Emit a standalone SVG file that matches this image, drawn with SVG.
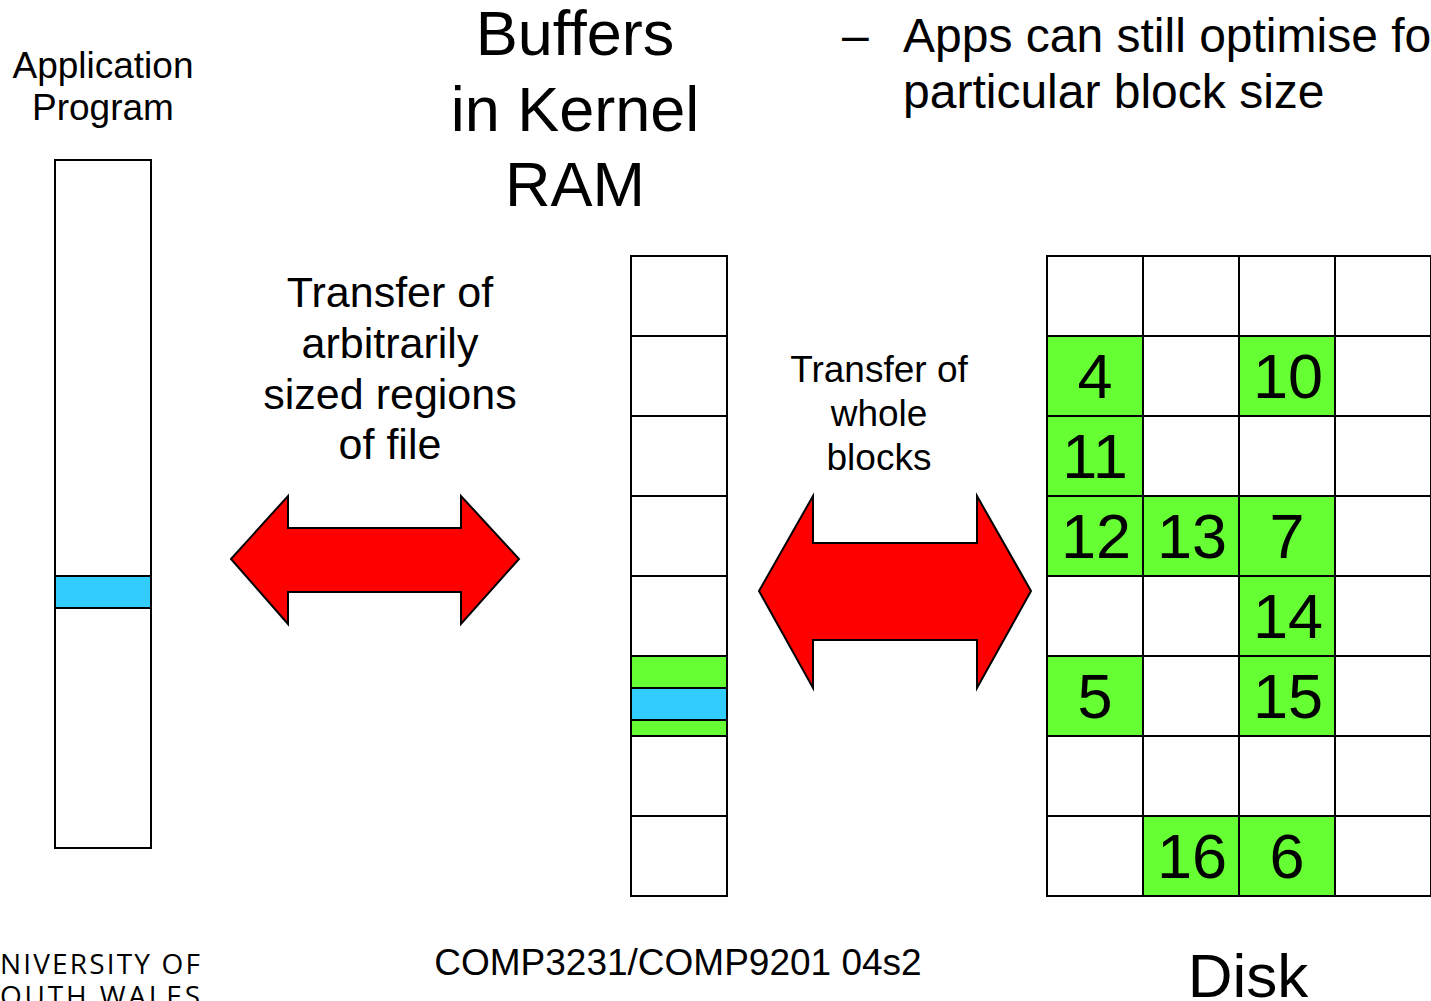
<svg xmlns="http://www.w3.org/2000/svg" width="1431" height="1001" viewBox="0 0 1431 1001">
<style>
text{font-family:"Liberation Sans",Arial,sans-serif;fill:#000}
.cell{fill:#fff;stroke:#000;stroke-width:2}
.g{fill:#66ff33;stroke:#000;stroke-width:2}
.b{fill:#33ccff;stroke:#000;stroke-width:2}
.arrow{fill:#ff0000;stroke:#000;stroke-width:2;stroke-linejoin:miter}
.num{font-size:63px;text-anchor:middle}
.c{text-anchor:middle}
.logo{font-family:"Open Sans","Noto Sans",sans-serif;font-weight:400;font-size:28px}
</style>
<rect width="1431" height="1001" fill="#fff"/>
<g id="title">
<text class="c" x="575" y="55" font-size="63">Buffers</text>
<text class="c" x="575" y="131" font-size="63">in Kernel</text>
<text class="c" x="575" y="206" font-size="63">RAM</text>
</g>
<g id="bullet">
<text x="842" y="52" font-size="48">–</text>
<text x="903" y="52" font-size="48">Apps can still optimise fo</text>
<text x="903" y="108" font-size="48">particular block size</text>
</g>
<g id="app">
<text class="c" x="103" y="78" font-size="37">Application</text>
<text class="c" x="103" y="120" font-size="37">Program</text>
<rect class="cell" x="55" y="160" width="96" height="688"/>
<rect class="b" x="55" y="576" width="96" height="32"/>
</g>
<g id="kernel">
<rect class="cell" x="631" y="256" width="96" height="80"/>
<rect class="cell" x="631" y="336" width="96" height="80"/>
<rect class="cell" x="631" y="416" width="96" height="80"/>
<rect class="cell" x="631" y="496" width="96" height="80"/>
<rect class="cell" x="631" y="576" width="96" height="80"/>
<rect class="g" x="631" y="656" width="96" height="80"/>
<rect class="b" x="631" y="688" width="96" height="32"/>
<rect class="cell" x="631" y="736" width="96" height="80"/>
<rect class="cell" x="631" y="816" width="96" height="80"/>
</g>
<g id="disk">
<rect class="cell" x="1047" y="256" width="96" height="80"/>
<rect class="cell" x="1143" y="256" width="96" height="80"/>
<rect class="cell" x="1239" y="256" width="96" height="80"/>
<rect class="cell" x="1335" y="256" width="96" height="80"/>
<rect class="g" x="1047" y="336" width="96" height="80"/>
<rect class="cell" x="1143" y="336" width="96" height="80"/>
<rect class="g" x="1239" y="336" width="96" height="80"/>
<rect class="cell" x="1335" y="336" width="96" height="80"/>
<rect class="g" x="1047" y="416" width="96" height="80"/>
<rect class="cell" x="1143" y="416" width="96" height="80"/>
<rect class="cell" x="1239" y="416" width="96" height="80"/>
<rect class="cell" x="1335" y="416" width="96" height="80"/>
<rect class="g" x="1047" y="496" width="96" height="80"/>
<rect class="g" x="1143" y="496" width="96" height="80"/>
<rect class="g" x="1239" y="496" width="96" height="80"/>
<rect class="cell" x="1335" y="496" width="96" height="80"/>
<rect class="cell" x="1047" y="576" width="96" height="80"/>
<rect class="cell" x="1143" y="576" width="96" height="80"/>
<rect class="g" x="1239" y="576" width="96" height="80"/>
<rect class="cell" x="1335" y="576" width="96" height="80"/>
<rect class="g" x="1047" y="656" width="96" height="80"/>
<rect class="cell" x="1143" y="656" width="96" height="80"/>
<rect class="g" x="1239" y="656" width="96" height="80"/>
<rect class="cell" x="1335" y="656" width="96" height="80"/>
<rect class="cell" x="1047" y="736" width="96" height="80"/>
<rect class="cell" x="1143" y="736" width="96" height="80"/>
<rect class="cell" x="1239" y="736" width="96" height="80"/>
<rect class="cell" x="1335" y="736" width="96" height="80"/>
<rect class="cell" x="1047" y="816" width="96" height="80"/>
<rect class="g" x="1143" y="816" width="96" height="80"/>
<rect class="g" x="1239" y="816" width="96" height="80"/>
<rect class="cell" x="1335" y="816" width="96" height="80"/>
<text class="num" x="1095" y="398">4</text>
<text class="num" x="1288" y="398">10</text>
<text class="num" x="1095" y="478">11</text>
<text class="num" x="1096" y="558">12</text>
<text class="num" x="1192" y="558">13</text>
<text class="num" x="1287" y="558">7</text>
<text class="num" x="1288" y="638">14</text>
<text class="num" x="1095" y="718">5</text>
<text class="num" x="1288" y="718">15</text>
<text class="num" x="1192" y="878">16</text>
<text class="num" x="1287" y="878">6</text>
<text class="c" x="1248" y="997" font-size="62">Disk</text>
</g>
<g id="connectors">
<polygon class="arrow" points="231,559 288,496 288,528 461,528 461,496 519,559 461,624 461,592 288,592 288,624"/>
<polygon class="arrow" points="759,591 813,496 813,543 977,543 977,496 1031,591 977,688 977,640 813,640 813,688"/>
</g>
<g id="label1">
<text class="c" x="390" y="307" font-size="43">Transfer of</text>
<text class="c" x="390" y="358" font-size="43">arbitrarily</text>
<text class="c" x="390" y="409" font-size="43">sized regions</text>
<text class="c" x="390" y="459" font-size="43">of file</text>
</g>
<g id="label2">
<text class="c" x="879" y="382" font-size="37">Transfer of</text>
<text class="c" x="879" y="426" font-size="37">whole</text>
<text class="c" x="879" y="470" font-size="37">blocks</text>
</g>
<g id="footer">
<text class="c" x="678" y="975" font-size="37">COMP3231/COMP9201 04s2</text>
<text class="logo" x="0" y="974" textLength="200" lengthAdjust="spacing">NIVERSITY OF</text>
<text class="logo" x="0" y="1006" textLength="200" lengthAdjust="spacing">OUTH WALES</text>
</g>
</svg>
